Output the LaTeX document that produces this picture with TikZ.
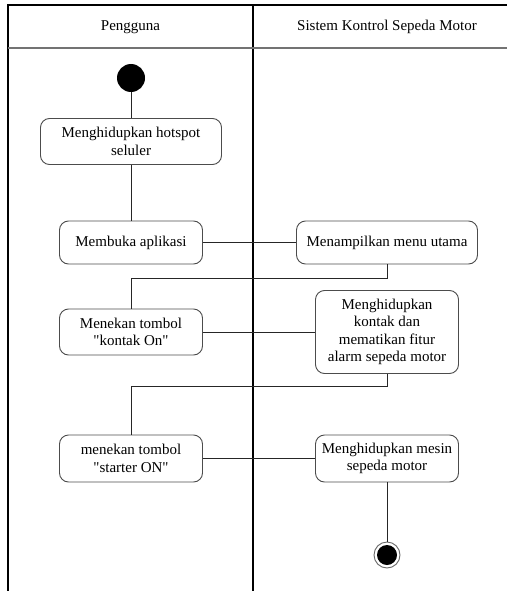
\documentclass[tikz,border=0pt]{standalone}
\usepackage{fontspec}
\setmainfont{Liberation Serif}
\usepackage{tikz}
\usetikzlibrary{positioning}
\tikzstyle{lane} = [draw=black, line width=1.2pt]
\tikzstyle{activity} = [rectangle, draw=black!70, line width=0.9pt, rounded corners=9pt,
    align=center, minimum width=143pt, minimum height=46pt, inner sep=2pt]
\tikzstyle{initial} = [circle, fill=black, minimum size=28pt, inner sep=0pt]
\tikzstyle{final} = [circle, draw=black!60, line width=0.9pt, fill=white, minimum size=26pt, inner sep=0pt,
    path picture={\fill[black] (path picture bounding box.center) circle (10pt);}]
\tikzstyle{flow} = [draw=black!85, line width=0.9pt]

\begin{document}
\begin{tikzpicture}[node distance=2cm, font=\fontsize{15}{17.5}\selectfont]
    % Swimlanes
    \useasboundingbox (0,0) rectangle (507pt,-591pt);
    \draw [lane] (8pt,-591pt) -- (8pt,-5pt) -- (507pt,-5pt);
    \draw [lane] (253pt,-5pt) -- (253pt,-591pt);
    \draw [lane, draw=black!55, line width=1.6pt] (8pt,-48pt) -- (507pt,-48pt);
    \node (user) at (130.5pt,-27pt) {Pengguna};
    \node (system) at (387pt,-27pt) {Sistem Kontrol Sepeda Motor};

    % Nodes
    \node [initial] (start) at (131pt,-78pt) {};
    \node [activity, below of=start, node distance=63.5pt, minimum width=181pt] (hotspot) {Menghidupkan hotspot\\seluler};
    \node [activity, below of=hotspot, node distance=101pt, minimum height=43pt] (app) {Membuka aplikasi};
    \node [activity, right of=app, node distance=256pt, minimum width=181pt, minimum height=43pt] (menu) {Menampilkan menu utama};
    \node [activity, below of=app, node distance=89.5pt] (contact) {Menekan tombol\\\textquotedbl{}kontak On\textquotedbl};
    \node [activity, right of=contact, node distance=256pt, minimum height=83pt] (alarm) {Menghidupkan\\kontak dan\\mematikan fitur\\alarm sepeda motor};
    \node [activity, below of=contact, node distance=126.5pt, minimum height=47pt] (starter) {menekan tombol\\\textquotedbl{}starter ON\textquotedbl};
    \node [activity, right of=starter, node distance=256pt, minimum height=47pt] (engine) {Menghidupkan mesin\\sepeda motor};
    \node [final, below of=engine, node distance=96.5pt] (end) {};

    % Connections
    \draw [flow] (start) -- (hotspot);
    \draw [flow] (hotspot) -- (app);
    \draw [flow] (app) -- (menu);
    \draw [flow] (menu.south) -- ++(0,-14pt) -| (contact.north);
    \draw [flow] (contact) -- (alarm);
    \draw [flow] (alarm.south) -- ++(0,-12pt) -| (starter.north);
    \draw [flow] (starter) -- (engine);
    \draw [flow] (engine) -- (end);
\end{tikzpicture}
\end{document}
